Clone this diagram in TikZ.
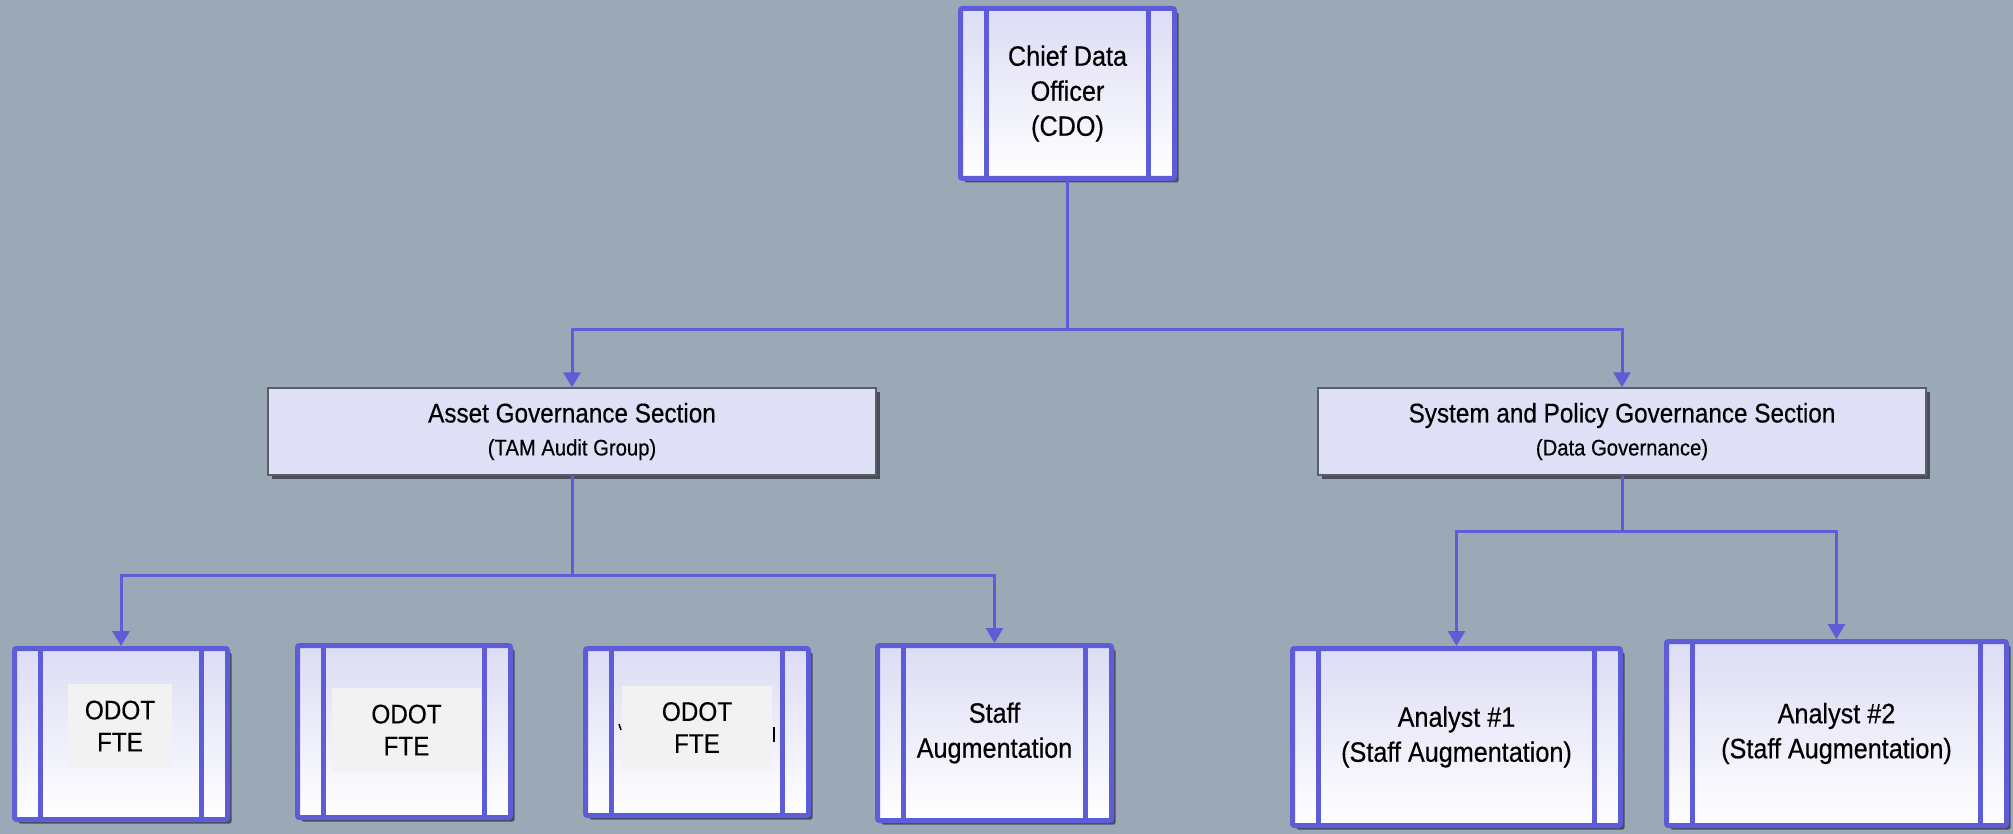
\documentclass[tikz,border=0pt]{standalone}
\usepackage{fontspec}
\setmainfont[FakeStretch=0.9,FakeBold=0.4]{Liberation Sans}
\usetikzlibrary{arrows.meta,shadows}
\definecolor{bgc}{RGB}{155,168,182}
\definecolor{boxblue}{RGB}{94,92,214}
\definecolor{lav}{RGB}{220,220,245}
\definecolor{midfill}{RGB}{223,223,246}
\definecolor{midborder}{RGB}{88,94,106}
\definecolor{shadowc}{RGB}{72,78,90}
\definecolor{labelgray}{RGB}{242,242,242}
\tikzset{
  staffbox/.style={draw=boxblue, line width=5pt, rounded corners=2pt,
    top color=lav, bottom color=white, inner sep=0pt, align=center,
    font=\fontsize{28}{35}\selectfont,
    drop shadow={shadow xshift=4pt, shadow yshift=-4pt, fill=shadowc, opacity=1},
    path picture={\draw[boxblue, line width=5pt]
      ([xshift=26pt]path picture bounding box.north west) -- ([xshift=26pt]path picture bounding box.south west)
      ([xshift=-26pt]path picture bounding box.north east) -- ([xshift=-26pt]path picture bounding box.south east);}},
  midbox/.style={draw=midborder, line width=1.5pt, fill=midfill, inner sep=0pt,
    minimum width=608pt, minimum height=87pt, align=center,
    font=\fontsize{27}{33}\selectfont,
    drop shadow={shadow xshift=4pt, shadow yshift=-4pt, fill=shadowc, opacity=1}},
  graylabel/.style={fill=labelgray, inner sep=0pt, align=center,
    font=\fontsize{27}{32}\selectfont},
  conn/.style={draw=boxblue, line width=3pt, -{Triangle[length=15pt,width=17pt]}}
}
\begin{document}
\begin{tikzpicture}[x=1pt, y=-1pt]
\useasboundingbox[fill=bgc] (0,0) rectangle (2013,834);

% top level
\node[staffbox, minimum width=214pt, minimum height=170pt] (cdo) at (1067.5,93.5)
  {Chief Data\\Officer\\(CDO)};

% sections
\node[midbox] (asset) at (572,431.5)
  {Asset Governance Section\\{\fontsize{22.5}{33}\selectfont (TAM Audit Group)}};
\node[midbox] (system) at (1622,431.5)
  {System and Policy Governance Section\\{\fontsize{22.5}{33}\selectfont (Data Governance)}};

% staff row
\node[staffbox, minimum width=213pt, minimum height=171pt] (fte1) at (121,734) {};
\node[staffbox, minimum width=213pt, minimum height=172pt] (fte2) at (404,731.5) {};
\node[staffbox, minimum width=223pt, minimum height=167pt] (fte3) at (697,732) {};
\node[staffbox, minimum width=234pt, minimum height=175pt] (aug) at (994.5,733)
  {Staff\\Augmentation};
\node[staffbox, minimum width=328pt, minimum height=177pt] (an1) at (1456.5,737)
  {Analyst \#1\\(Staff Augmentation)};
\node[staffbox, minimum width=340pt, minimum height=184pt] (an2) at (1836.5,733.5)
  {Analyst \#2\\(Staff Augmentation)};

% scraps of text left under the third label
\draw[line width=1.5pt] (619,724) -- (621,730);
\draw[line width=2pt] (774,727) -- (774,742);

% label patches on the FTE boxes
\node[graylabel, minimum width=104pt, minimum height=84pt] (lab1) at (120,726) {ODOT\\FTE};
\node[graylabel, minimum width=149pt, minimum height=84pt] (lab2) at (406.5,730) {ODOT\\FTE};
\node[graylabel, minimum width=150pt, minimum height=83pt] (lab3) at (697,727.5) {ODOT\\FTE};

% connectors
\coordinate (busTop) at (1067.5,329);
\draw[conn] (cdo.south) -- (busTop) -| (asset.north);
\draw[conn] (busTop) -| (system.north);

\coordinate (busAsset) at (572,575);
\draw[conn] (asset.south) -- (busAsset) -| (fte1.north);
\draw[conn] (busAsset) -| (aug.north);

\coordinate (busSys) at (1622,531);
\draw[conn] (system.south) -- (busSys) -| (an1.north);
\draw[conn] (busSys) -| (an2.north);
\end{tikzpicture}
\end{document}
